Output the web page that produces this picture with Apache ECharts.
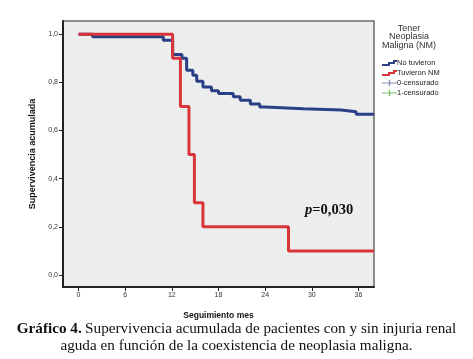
<!DOCTYPE html>
<html>
<head>
<meta charset="utf-8">
<script src="https://cdn.jsdelivr.net/npm/echarts@6/dist/echarts.min.js"></script>
<style>
  html, body { margin: 0; padding: 0; background: #fff; }
  #chart { width: 473px; height: 359px; }
</style>
</head>
<body>
<div id="chart"></div>
<script>
// tiempos (meses) y supervivencia acumulada
const noTuvieronT = [0, 1.8, 10.9, 12.1, 13.3, 13.9, 14.7, 15.2, 16.0, 17.1, 18.0, 19.9, 20.8, 22.1, 23.3, 24.0, 28.9, 33.8, 35.7, 38];
const noTuvieronS = [1.0, 0.99, 0.975, 0.916, 0.9, 0.85, 0.83, 0.805, 0.781, 0.765, 0.754, 0.74, 0.726, 0.71, 0.698, 0.69, 0.685, 0.678, 0.668, 0.668];
const tuvieronT = [0, 12.1, 13.1, 14.2, 14.9, 16.0, 27.0, 38];
const tuvieronS = [1.0, 0.9, 0.7, 0.5, 0.3, 0.2, 0.1, 0.1];
const xTicks = [0, 6, 12, 18, 24, 30, 36];
const yTicks = [0, 0.2, 0.4, 0.6, 0.8, 1.0];

const pairs = (t, s) => t.map((v, i) => [v, s[i]]);
const comma = v => v.toFixed(1).replace(".", ",");

const chart = echarts.init(document.getElementById("chart"));

const stepIcon = "path://M0,4 L6,4 L6,2 L11,2 L11,0 L15,0 L15,2 L13,2 L13,4 L8,4 L8,6 L0,6 Z";
const crossIcon = "path://M0,2.6 L6.8,2.6 L6.8,0 L8.2,0 L8.2,2.6 L15,2.6 L15,3.4 L8.2,3.4 L8.2,6 L6.8,6 L6.8,3.4 L0,3.4 Z";

let option = {
  animation: false,
  textStyle: { fontFamily: "Liberation Sans, Arial, sans-serif" },
  grid: {
    left: 63, right: 99, top: 21, bottom: 72,
    show: true,
    backgroundColor: "#eceeee",
    borderColor: "#6b6b6b",
    borderWidth: 1.5,
  },
  legend: {
    orient: "vertical",
    left: 377,
    top: 54,
    itemWidth: 15,
    itemHeight: 6,
    itemGap: 2,
    textStyle: { fontSize: 7.5, color: "#222", padding: [0, 0, 0, -5] },
    data: [
      { name: "No tuvieron", icon: stepIcon, itemStyle: { color: "#2b3f86" } },
      { name: "Tuvieron NM", icon: stepIcon, itemStyle: { color: "#d9343a" } },
      { name: "0-censurado", icon: crossIcon, itemStyle: { color: "#8090b8" } },
      { name: "1-censurado", icon: crossIcon, itemStyle: { color: "#7cbf6a" } },
    ],
  },
  xAxis: {
    type: "value",
    min: -2,
    max: 38,
    name: "Seguimiento mes",
    nameLocation: "middle",
    nameGap: 24,
    nameTextStyle: { fontSize: 8.5, fontWeight: "bold", color: "#111" },
    axisLine: { show: true, onZero: false, lineStyle: { color: "#222", width: 2 } },
    axisTick: { show: true, length: 4, customValues: xTicks, lineStyle: { color: "#222" } },
    axisLabel: { customValues: xTicks, fontSize: 7, color: "#333", margin: 5 },
    splitLine: { show: false },
  },
  yAxis: {
    type: "value",
    min: -0.05,
    max: 1.055,
    name: "Supervivencia acumulada",
    nameLocation: "middle",
    nameGap: 26,
    nameTextStyle: { fontSize: 9, fontWeight: "bold", color: "#111" },
    axisLine: { show: true, onZero: false, lineStyle: { color: "#222", width: 2 } },
    axisTick: { show: true, length: 4, customValues: yTicks, lineStyle: { color: "#222" } },
    axisLabel: { customValues: yTicks, fontSize: 7, color: "#333", margin: 5, formatter: comma },
    splitLine: { show: false },
  },
  series: [
    {
      name: "No tuvieron",
      type: "line",
      step: "end",
      symbol: "none",
      lineStyle: { color: "#2b3f86", width: 3 },
      itemStyle: { color: "#2b3f86" },
      data: pairs(noTuvieronT, noTuvieronS),
      z: 3,
    },
    {
      name: "Tuvieron NM",
      type: "line",
      step: "end",
      symbol: "none",
      lineStyle: { color: "#d9343a", width: 3 },
      itemStyle: { color: "#d9343a" },
      data: pairs(tuvieronT, tuvieronS),
      z: 4,
    },
    { name: "0-censurado", type: "line", data: [], itemStyle: { color: "#8090b8" } },
    { name: "1-censurado", type: "line", data: [], itemStyle: { color: "#7cbf6a" } },
  ],
  graphic: [
    {
      type: "text",
      x: 409, y: 24,
      style: {
        text: "Tener\nNeoplasia\nMaligna (NM)",
        align: "center",
        lineHeight: 8.5,
        fill: "#333",
        font: "9px Liberation Sans, Arial, sans-serif",
      },
    },
    {
      type: "text",
      left: 305, top: 203,
      style: {
        text: "{i|p}{b|=0,030}",
        rich: {
          i: { fontFamily: "Liberation Serif", fontSize: 14.5, fontWeight: "bold", fontStyle: "italic", fill: "#111" },
          b: { fontFamily: "Liberation Serif", fontSize: 14.5, fontWeight: "bold", fill: "#111" },
        },
      },
    },
    {
      type: "text",
      left: "center", top: 322,
      style: {
        text: "{b|Gráfico 4.} {n|Supervivencia acumulada de pacientes con y sin injuria renal}",
        rich: {
          b: { fontFamily: "Liberation Serif", fontSize: 15.2, fontWeight: "bold", fill: "#111" },
          n: { fontFamily: "Liberation Serif", fontSize: 15.2, fill: "#111" },
        },
      },
    },
    {
      type: "text",
      left: "center", top: 339,
      style: {
        text: "aguda en función de la coexistencia de neoplasia maligna.",
        font: "15.2px Liberation Serif",
        fill: "#111",
      },
    },
  ],
};

chart.setOption(option);
</script>
</body>
</html>
